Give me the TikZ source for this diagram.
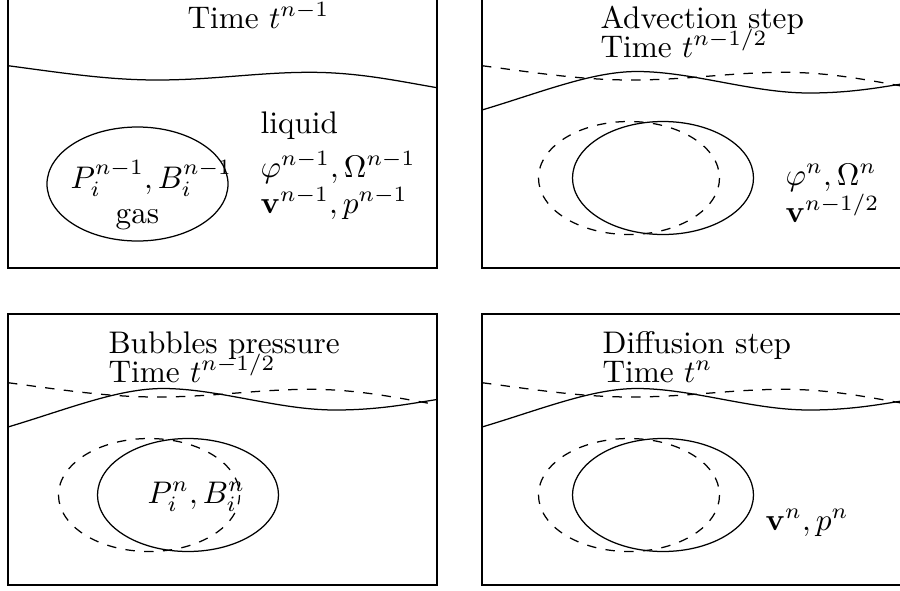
\documentclass[tikz,border=0pt]{standalone}
\usepackage{amsmath,amssymb}
\usepackage{tikz}

\begin{document}
\begin{tikzpicture}[x=0.32pt, y=-0.32pt, every node/.style={inner sep=0pt, anchor=base west}]
	\useasboundingbox (0,0) rectangle (900,590);
	\clip (0,0) rectangle (900,590);
	\foreach \px/\py in {8/-3, 482/-3, 8/314, 482/314} {\draw (\px,\py) rectangle ++(429,271);}
	% time t^{n-1}
	\begin{scope}[shift={(8,-3)}]
		\draw (0,68.7) .. controls (55,76) and (100,83) .. (149,83) .. controls (205,83) and (250,75.3) .. (302,75.3) .. controls (350,75.3) and (390,84) .. (429,90.7);
		\draw (129.5,187) ellipse (90.5 and 57);
		\node (ttl0) at (179,31) {Time $t^{n-1}$};
		\node (liq) at (252,136) {liquid};
		\node (phi0) at (252,180) {$\varphi^{n-1},\Omega^{n-1}$};
		\node (vel0) at (252,216) {$\mathbf{v}^{n-1},p^{n-1}$};
		\node (pb0) at (62,191) {$P_i^{n-1},B_i^{n-1}$};
		\node[anchor=base] (gas) at (129.5,226) {gas};
	\end{scope}
	% old interface dashed, new one solid
	\foreach \px/\py/\ex/\sx in {482/-3/147/181, 8/314/141/180, 482/314/147/181} {
		\begin{scope}[shift={(\px,\py)}]
			\draw[dashed] (0,68.7) .. controls (55,76) and (100,83) .. (149,83) .. controls (205,83) and (250,75.3) .. (302,75.3) .. controls (350,75.3) and (390,84) .. (429,90.7);
			\draw (0,113) .. controls (60,95) and (110,74.5) .. (155,74.5) .. controls (210,74.5) and (270,96) .. (327,96) .. controls (370,96) and (400,90) .. (429,85.5);
			\draw[dashed] (\ex,181) ellipse (90.5 and 56.5);
			\draw (\sx,181) ellipse (90.5 and 56.5);
		\end{scope}
	}
	% advection
	\begin{scope}[shift={(482,-3)}]
		\node (adv) at (118,31) {Advection step};
		\node (ttl1) at (118,60) {Time $t^{n-1/2}$};
		\node (phi1) at (303,188) {$\varphi^n,\Omega^n$};
		\node (vel1) at (303,225) {$\mathbf{v}^{n-1/2}$};
	\end{scope}
	% bubbles pressure
	\begin{scope}[shift={(8,314)}]
		\node (bub) at (100,39) {Bubbles pressure};
		\node (ttl2) at (100,68) {Time $t^{n-1/2}$};
		\node (pb2) at (139,189) {$P_i^n,B_i^n$};
	\end{scope}
	% diffusion
	\begin{scope}[shift={(482,314)}]
		\node (dif) at (120,39) {Diffusion step};
		\node (ttl3) at (120,68) {Time $t^n$};
		\node (vel3) at (283,216) {$\mathbf{v}^n,p^n$};
	\end{scope}
\end{tikzpicture}
\end{document}
